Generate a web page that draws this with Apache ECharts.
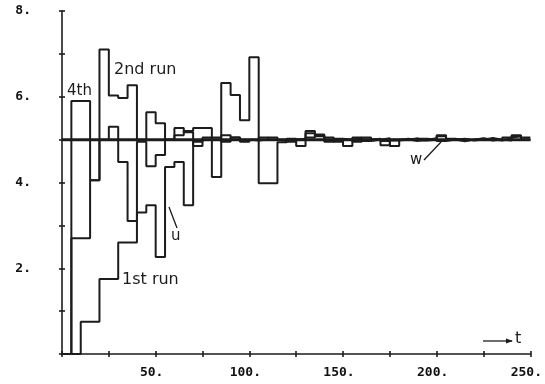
<!DOCTYPE html>
<html>
<head>
<meta charset="utf-8">
<script src="https://cdn.jsdelivr.net/npm/echarts@6/dist/echarts.min.js"></script>
<style>
html,body{margin:0;padding:0;background:#fff;}
#c{width:545px;height:384px;}
</style>
</head>
<body>
<div id="c"></div>
<script>
// step length of the piecewise-constant runs (time units)
const stepLen = 5;
// values held on each interval [5i, 5i+5)
const run1 = [0,0,0.75,0.75,1.75,1.75,2.6,2.6,3.3,3.47,2.26,4.36,4.48,3.47,4.95,5.05,5.05,5.1,5.05,4.95,5.0,5.05,5.0,4.97,5.02,4.85,5.2,5.1,5.05,5.0,4.85,5.05,5.0,5.02,4.97,4.85,5.0,5.03,4.98,5.0,5.1,5.02,4.98,5.0,5.02,4.98,5.0,5.05,5.08,5.0];
const run2 = [0,2.7,2.7,4.05,7.1,6.03,5.97,6.27,5.0,5.64,5.38,5.0,5.1,5.2,5.27,5.27,4.13,6.32,6.04,5.45,6.92,3.98,3.98,4.94,5.0,5.02,5.15,5.08,4.95,5.02,5.0,4.95,5.05,5.0,5.03,4.98,5.0,4.97,5.02,5.0,5.08,5.0,4.96,5.0,5.03,5.0,4.98,5.02,5.1,5.05];
const run4 = [0,5.9,5.9,4.05,5.0,5.3,4.48,3.1,4.95,4.38,4.64,5.0,5.27,5.17,4.85,5.0,5.0,4.95,5.05,5.0,4.98,5.0,5.05,5.0,4.95,5.0,5.05,5.12,5.0,4.95,5.0,5.03,4.97,5.0,4.87,5.0,5.02,4.98,5.0,5.03,4.97,5.0,5.02,4.98,5.0,5.04,5.0,4.98,5.08,5.0];
const wLevel = 5;
const tRange = [0, 250];
const xTickLabels = ['50.','100.','150.','200.','250.'];
const yTickLabels = ['2.','4.','6.','8.'];

function stepData(vals){
  const d = vals.map((v,i)=>[i*stepLen, v]);
  d.push([vals.length*stepLen, vals[vals.length-1]]);
  return d;
}
const ink = '#1c1c1c';
const chart = echarts.init(document.getElementById('c'), null, {renderer:'canvas'});
const lineStyle = {color: ink, width: 2};
function stepSeries(name, vals){
  return {name, type:'line', step:'end', data: stepData(vals), symbol:'none',
    lineStyle, xAxisIndex:0, yAxisIndex:0, silent:true, animation:false};
}
const axisFont = {fontFamily:'DejaVu Sans Mono', fontWeight:'bold', fontSize:13, color:'#111'};
chart.setOption({
  backgroundColor:'#fff',
  animation:false,
  grid:{left:62, right:14, top:11, bottom:30, containLabel:false},
  xAxis:[{
    type:'value', min:tRange[0], max:tRange[1], interval:25,
    axisLine:{show:true, lineStyle:{color:ink, width:1.6}},
    axisTick:{show:true, length:3, lineStyle:{color:ink, width:1.6}},
    splitLine:{show:false},
    axisLabel:Object.assign({margin:12, padding:[0,8,0,0],
      formatter:v=> (v>0 && v%50===0) ? xTickLabels[v/50-1] : ''}, axisFont)
  },{
    type:'value', min:tRange[0], max:tRange[1], interval:25, position:'bottom',
    axisLine:{show:false}, axisLabel:{show:false}, splitLine:{show:false},
    axisTick:{show:true, inside:true, length:3, lineStyle:{color:ink, width:1.6}}
  }],
  yAxis:[{
    type:'value', min:0, max:8, interval:1,
    axisLine:{show:true, lineStyle:{color:ink, width:1.6}},
    axisTick:{show:true, length:3, lineStyle:{color:ink, width:1.6}},
    splitLine:{show:false},
    axisLabel:Object.assign({margin:31,
      formatter:v=> (v>0 && v%2===0) ? yTickLabels[v/2-1] : ''}, axisFont)
  },{
    type:'value', min:0, max:8, interval:1, position:'left',
    axisLine:{show:false}, axisLabel:{show:false}, splitLine:{show:false},
    axisTick:{show:true, inside:true, length:3, lineStyle:{color:ink, width:1.6}}
  }],
  series:[
    {name:'w', type:'line', data:[[tRange[0],wLevel],[tRange[1],wLevel]], symbol:'none',
      lineStyle:{color:ink, width:3}, silent:true},
    stepSeries('1st run', run1),
    stepSeries('2nd run', run2),
    stepSeries('4th', run4)
  ],
  graphic:[
    {type:'text', left:67, top:84, style:{text:'4th', font:'15px "DejaVu Sans"', fill:ink}},
    {type:'text', left:114, top:62, style:{text:'2nd run', font:'16px "DejaVu Sans"', fill:ink}},
    {type:'text', left:122, top:272, style:{text:'1st run', font:'16px "DejaVu Sans"', fill:ink}},
    {type:'line', shape:{x1:169, y1:207, x2:177, y2:228}, style:{stroke:ink, lineWidth:1.3}},
    {type:'text', left:171, top:229, style:{text:'u', font:'15px "DejaVu Sans"', fill:ink}},
    {type:'line', shape:{x1:424, y1:160, x2:441, y2:142}, style:{stroke:ink, lineWidth:1.3}},
    {type:'text', left:410, top:153, style:{text:'w', font:'15px "DejaVu Sans"', fill:ink}},
    {type:'line', shape:{x1:483, y1:341, x2:512, y2:341}, style:{stroke:ink, lineWidth:1.3}},
    {type:'polygon', shape:{points:[[513,341],[506,338.5],[506,343.5]]}, style:{fill:ink}},
    {type:'text', left:515, top:331, style:{text:'t', font:'16px "DejaVu Sans"', fill:ink}}
  ]
});
</script>
</body>
</html>
